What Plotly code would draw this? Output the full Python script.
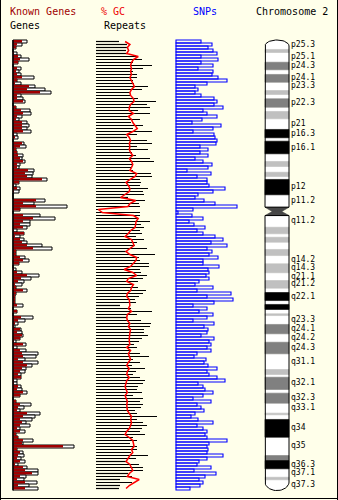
import math
import plotly.graph_objects as go

W, H = 338, 500
BIN = 1.62        # Mb per bin
CHR_LEN = 243.3   # Mb

genes_total = [14,9,3,0,4,8,16,5,0,8, 6,8,21,4,8,22,32,38,8,10,
               12,0,3,17,18,9,6,14,16,14, 18,4,5,0,11,13,3,4,10,9,
               12,7,6,21,20,19,34,6,3,7, 6,0,0,32,21,54,7,0,27,42,
               17,17,14,4,11,7,11,14,29,39, 3,3,12,16,6,0,3,9,26,18,
               11,9,3,14,3,2,2,2,10,0, 4,0,20,12,5,2,8,9,10,7,
               3,13,4,13,25,23,12,25,19,13, 12,8,8,4,4,8,9,14,7,0,
               3,18,11,7,27,22,19,13,17,7, 12,3,5,20,10,61,4,10,11,8,
               12,5,14,25,25,13,11,24,16,25]
genes_known = [9,4,3,0,1,5,7,5,0,4, 3,4,9,4,2,16,14,27,4,4,
               10,0,3,8,10,4,3,9,9,9, 10,1,2,0,9,7,3,4,5,7,
               10,4,4,15,12,14,29,6,1,4, 1,0,0,23,10,23,7,0,10,20,
               10,7,10,1,11,2,7,9,14,20, 3,3,7,10,6,0,1,4,14,8,
               5,2,3,10,3,2,2,2,4,0, 4,0,8,5,2,1,7,4,9,7,
               1,10,1,7,9,10,5,10,14,9, 7,5,8,1,1,5,4,10,7,0,
               3,7,5,4,14,10,7,9,7,4, 7,3,5,10,9,50,4,7,5,4,
               7,2,10,12,19,7,4,12,5,12]
repeats = [23,31,31,30,31,41,46,37,56,47, 37,41,41,37,38,52,46,34,35,42,
           60,51,54,42,54,34,44,35,47,37, 56,41,31,51,56,41,52,36,40,54,
           58,37,35,37,55,56,44,45,44,52, 47,48,32,49,43,44,2,44,44,43,
           54,45,48,44,46,40,48,41,39,51, 31,59,43,44,53,53,44,45,51,47,
           42,38,42,50,47,43,39,40,24,35, 56,41,31,45,55,54,48,48,52,46,
           43,38,41,35,44,53,37,44,36,49, 40,37,44,49,47,42,41,46,37,47,
           44,47,45,39,41,61,41,47,51,46, 44,49,37,41,34,41,41,35,52,40,
           31,43,47,47,32,36,24,36,24,23]
gc_pct = [39.1,40.6,39.8,40.2,39.6,43.2,41.7,41.1,40.8,41.1,
          40.8,41.1,40.6,41.1,41.5,42.0,41.1,40.6,40.8,41.7,
          41.9,40.8,40.4,40.4,41.7,40.1,41.1,41.5,42.2,42.9,
          41.5,39.6,40.4,40.8,40.4,40.6,40.4,40.8,41.5,40.4,
          41.1,41.5,41.1,40.6,42.7,42.2,40.6,39.4,40.1,40.6,
          40.4,39.1,37.7,42.4,40.6,40.0,30.7,32.0,41.7,43.2,
          42.5,42.4,42.2,40.8,40.1,39.1,41.1,41.5,41.9,40.6,
          39.4,40.6,42.7,42.5,41.6,40.8,38.8,41.5,42.7,40.1,
          39.6,41.7,41.1,40.8,39.8,39.6,40.4,40.4,40.6,40.1,
          41.1,39.8,39.6,39.8,40.6,40.1,40.8,40.6,40.4,40.4,
          40.4,40.6,39.6,40.8,40.1,40.4,40.8,40.1,39.6,40.4,
          39.8,39.6,40.4,39.6,39.4,39.1,39.4,39.8,39.1,39.4,
          39.8,39.6,39.8,39.8,40.4,41.1,40.8,41.1,40.8,40.4,
          39.6,39.1,40.4,41.5,41.7,41.9,41.1,41.5,40.6,40.1,
          39.4,40.6,41.1,41.5,40.4,39.8,43.5,41.7,40.4,39.4]
snps = [25,36,32,37,41,25,42,25,37,22, 37,36,42,51,31,19,22,19,25,38,
        41,38,47,27,31,41,26,16,45,37, 17,38,39,41,40,24,32,24,32,19,
        27,36,32,11,35,21,31,31,33,49, 37,22,19,28,39,61,17,2,16,27,
        13,18,29,21,27,39,47,35,51,31, 36,33,42,27,
        27,43,32,33,30,33,23,19,37,21, 55,31,57,38,17,31,23,37,31,17,
        38,28,32,31,25,38,33,35,31,35, 21,18,30,28,32,41,31,33,41,49,
        22,27,29,37,27,17,35,21,25,28, 19,15,22,37,21,27,31,29,31,51,
        33,31,32,31,47,31,23,21,35,18, 40,29,23,27,24,14]

band_names = ["p25.3","p25.2","p25.1","p24.3","p24.2","p24.1","p23.3","p23.2","p23.1",
              "p22.3","p22.2","p22.1","p21","p16.3","p16.2","p16.1","p15","p14",
              "p13.3","p13.2","p13.1","p12","p11.2","p11.1","q11.1","q11.2",
              "q12.1","q12.2","q12.3","q13","q14.1","q14.2","q14.3","q21.1","q21.2",
              "q21.3","q22.1","q22.2","q22.3","q23.1","q23.2","q23.3","q24.1","q24.2",
              "q24.3","q31.1","q31.2","q31.3","q32.1","q32.2","q32.3","q33.1","q33.2",
              "q33.3","q34","q35","q36.1","q36.3","q37.1","q37.2","q37.3"]
band_starts = [0,5.1,6.75,12.0,16.1,18.6,22.8,27.3,29.4,
               31.75,36.3,38.6,42.55,48.3,52.8,54.65,61.45,65.6,
               68.3,71.4,73.7,75.3,83.6,90.3,92.6,94.8,
               101.1,104.65,106.5,109.2,113.1,116.4,120.85,125.7,129.9,
               134.0,136.35,140.7,142.8,145.5,147.85,148.8,153.6,158.65,
               163.2,169.45,177.95,180.6,182.1,188.7,190.7,196.1,201.5,
               202.4,204.9,214.5,224.4,227.1,231.55,236.1,237.5]
band_stains = ["gneg","gpos50","gneg","gpos75","gneg","gpos75","gneg","gpos25","gneg",
               "gpos75","gneg","gpos50","gneg","gpos100","gneg","gpos100","gneg","gpos50",
               "gneg","gpos50","gneg","gpos100","gneg","acen","acen","gneg",
               "gpos50","gneg","gpos25","gneg","gpos50","gneg","gpos50","gneg","gpos25",
               "gneg","gpos100","gneg","gpos100","gneg","gpos25","gneg","gpos75","gneg",
               "gpos75","gneg","gpos50","gneg","gpos75","gneg","gpos75","gneg","gpos50",
               "gneg","gpos100","gneg","gpos75","gpos100","gneg","gpos50","gneg"]
labeled_bands = ["p25.3","p25.1","p24.3","p24.1","p23.3","p22.3","p21","p16.3","p16.1",
                 "p12","p11.2","q11.2","q14.2","q14.3","q21.1","q21.2","q22.1","q23.3",
                 "q24.1","q24.2","q24.3","q31.1","q32.1","q32.3","q33.1","q34","q35",
                 "q36.3","q37.1","q37.3"]

n = len(genes_total)
assert n == len(genes_known) == len(repeats) == len(gc_pct) == len(snps) == 150
assert len(band_names) == len(band_starts) == len(band_stains)

bin_centers = [(i + 0.5) * BIN for i in range(n)]

BG = "#ffffea"
stain_colors = {"gneg": "#ffffff", "gpos25": "#c0c0c0", "gpos50": "#c0c0c0",
                "gpos75": "#808080", "gpos100": "#000000", "acen": "#474747"}

fig = go.Figure()

# Genes track
fig.add_trace(go.Bar(x=genes_total, y=bin_centers, orientation="h", width=BIN,
                     marker=dict(color="#ffffff", line=dict(color="#000000", width=1)),
                     xaxis="x", yaxis="y"))
fig.add_trace(go.Bar(x=genes_known, y=bin_centers, orientation="h", width=BIN * 0.62,
                     marker=dict(color="#a00000", line=dict(width=0)),
                     xaxis="x", yaxis="y"))
fig.add_trace(go.Scatter(x=[0, 0], y=[0, CHR_LEN], mode="lines",
                         line=dict(color="#000000", width=1.5), xaxis="x", yaxis="y"))

# Repeats track (thin lines)
rep_x, rep_y = [], []
for v, c in zip(repeats, bin_centers):
    rep_x += [0, v, None]
    rep_y += [c, c, None]
fig.add_trace(go.Scatter(x=rep_x, y=rep_y, mode="lines",
                         line=dict(color="#000000", width=1.2), xaxis="x2", yaxis="y"))
# GC line
fig.add_trace(go.Scatter(x=gc_pct, y=bin_centers, mode="lines",
                         line=dict(color="#ff0000", width=1.5), xaxis="x3", yaxis="y"))

# SNPs track
fig.add_trace(go.Bar(x=snps, y=bin_centers, orientation="h", width=BIN,
                     marker=dict(color="rgba(0,0,0,0)", line=dict(color="#0000ff", width=1.1)),
                     xaxis="x4", yaxis="y"))

# Ideogram
cap_top, cap_bot = 3.2, 4.6
band_ends = band_starts[1:] + [CHR_LEN]
NARC = 24
top_arc = [(0.5 + 0.5 * math.cos(math.pi - math.pi * k / NARC),
            cap_top * (1 - math.sin(math.pi - math.pi * k / NARC))) for k in range(NARC + 1)]
bot_arc = [(0.5 + 0.5 * math.cos(math.pi * k / NARC),
            CHR_LEN - cap_bot + cap_bot * math.sin(math.pi * k / NARC)) for k in range(NARC + 1)]
acen_idx = [i for i, s in enumerate(band_stains) if s == "acen"]

polys = {}
for i, (s, e, st) in enumerate(zip(band_starts, band_ends, band_stains)):
    if i == 0:
        pts = [(0, e), (0, cap_top)] + top_arc + [(1, cap_top), (1, e)]
    elif i == len(band_starts) - 1:
        pts = [(1, s), (1, CHR_LEN - cap_bot)] + bot_arc + [(0, CHR_LEN - cap_bot), (0, s)]
    elif st == "acen" and i == acen_idx[0]:
        pts = [(0, s), (1, s), (0.7, e), (0.3, e)]
    elif st == "acen":
        pts = [(0.3, s), (0.7, s), (1, e), (0, e)]
    else:
        pts = [(0, s), (1, s), (1, e), (0, e)]
    pts.append(pts[0])
    xs, ys = polys.setdefault(st, ([], []))
    xs.extend([p[0] for p in pts] + [None])
    ys.extend([p[1] for p in pts] + [None])

for st, (xs, ys) in polys.items():
    c = stain_colors[st]
    fig.add_trace(go.Scatter(x=xs, y=ys, mode="lines", fill="toself", fillcolor=c,
                             line=dict(color=c, width=0.6), xaxis="x5", yaxis="y"))

cen_s = band_starts[acen_idx[0]]
q_s = band_ends[acen_idx[-1]]
ox = [0, 0] + [p[0] for p in top_arc] + [1, 1, 0, None] + [0, 0] + [p[0] for p in reversed(bot_arc)] + [1, 1, 0]
oy = [cen_s, cap_top] + [p[1] for p in top_arc] + [cap_top, cen_s, cen_s, None] + \
     [q_s, CHR_LEN - cap_bot] + [p[1] for p in reversed(bot_arc)] + [CHR_LEN - cap_bot, q_s, q_s]
fig.add_trace(go.Scatter(x=ox, y=oy, mode="lines", line=dict(color="#000000", width=1),
                         xaxis="x5", yaxis="y"))

# Band labels
lab_y, lab_t = [], []
for nm, s, e in zip(band_names, band_starts, band_ends):
    if nm in labeled_bands:
        lab_y.append((s + e) / 2)
        lab_t.append(nm)
fig.add_trace(go.Scatter(x=[0] * len(lab_y), y=lab_y, mode="text", text=lab_t,
                         textposition="middle right", cliponaxis=False,
                         textfont=dict(family="DejaVu Sans Mono", size=8, color="#000000"),
                         xaxis="x6", yaxis="y"))

def dom(a, b):
    return [a / W, b / W]

TOP = 40.0
y_range = [(H - TOP) * BIN / 3, -TOP * BIN / 3]
ax = dict(visible=False, fixedrange=True)
fig.update_layout(
    width=W, height=H, margin=dict(l=0, r=0, t=0, b=0),
    paper_bgcolor=BG, plot_bgcolor="rgba(0,0,0,0)",
    showlegend=False, barmode="overlay", hovermode=False,
    yaxis=dict(domain=[0, 1], range=y_range, **ax),
    xaxis=dict(domain=dom(11, 88), range=[-2, 75], anchor="y", **ax),
    xaxis2=dict(domain=dom(96, 166), range=[0, 70], anchor="y", **ax),
    xaxis3=dict(range=[30, 30 + 70 / 3.2], anchor="y", overlaying="x2", **ax),
    xaxis4=dict(domain=dom(175, 246), range=[-1, 70], anchor="y", **ax),
    xaxis5=dict(domain=dom(262.6, 291.4), range=[-0.1, 1.1], anchor="y", **ax),
    xaxis6=dict(domain=dom(291, 338), range=[0, 1], anchor="y", **ax),
)

def ann(text, x, y, color):
    return dict(text=text, x=x / W, y=1 - y / H, xref="paper", yref="paper",
                xanchor="left", yanchor="middle", showarrow=False, borderpad=0,
                font=dict(family="DejaVu Sans Mono", size=10, color=color))

fig.update_layout(annotations=[
    ann("Known Genes", 9, 11, "#a00000"),
    ann("Genes", 9, 25, "#000000"),
    ann("% GC", 100, 11, "#ee0000"),
    ann("Repeats", 103, 25, "#000000"),
    ann("SNPs", 192, 11, "#0000ff"),
    ann("Chromosome 2", 255, 11, "#000000"),
])

fig.update_layout(shapes=[
    dict(type="line", xref="paper", yref="paper", x0=0.5 / W, x1=0.5 / W, y0=0, y1=1,
         line=dict(color="#000000", width=1)),
    dict(type="line", xref="paper", yref="paper", x0=1 - 0.5 / W, x1=1 - 0.5 / W, y0=0, y1=1,
         line=dict(color="#000000", width=1)),
    dict(type="line", xref="paper", yref="paper", x0=0, x1=1, y0=1.5 / H, y1=1.5 / H,
         line=dict(color="#000000", width=1)),
])

fig.write_html("out.html")
